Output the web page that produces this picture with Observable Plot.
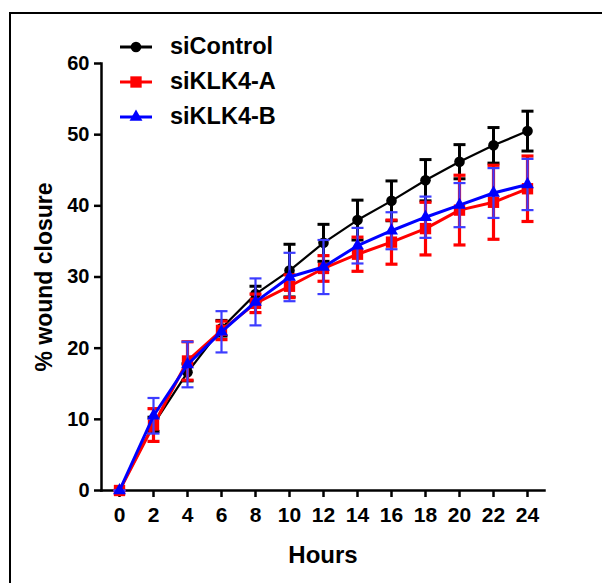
<!DOCTYPE html>
<html>
<head>
<meta charset="utf-8">
<script src="https://cdn.jsdelivr.net/npm/d3@7"></script>
<script src="https://cdn.jsdelivr.net/npm/@observablehq/plot@0.6"></script>
<style>
  html, body { margin: 0; padding: 0; background: #fff; }
  #wrap { position: relative; width: 602px; height: 583px; overflow: hidden; font-family: "Liberation Sans", Arial, sans-serif; }
  #chart { position: absolute; left: 0; top: 0; }
  #frame { position: absolute; left: 9px; top: 12px; width: 700px; height: 700px; border-left: 2px solid #000; border-top: 2px solid #000; z-index: 2; pointer-events: none; }
  #legend { position: absolute; left: 120px; top: 29px; z-index: 3; }
  .row { display: flex; align-items: center; height: 35px; }
  .row span { margin-left: 17px; font-size: 23.5px; font-weight: bold; color: #000; line-height: 1; }
</style>
</head>
<body>
<div id="wrap">
  <div id="chart"></div>
  <div id="frame"></div>
  <div id="legend"></div>
</div>
<script>
// ---- data ----
const hours = [0, 2, 4, 6, 8, 10, 12, 14, 16, 18, 20, 22, 24];
const seriesNames = ["siControl", "siKLK4-A", "siKLK4-B"];
const siControlMean = [0, 9.3, 16.6, 22.8, 27.6, 30.9, 34.8, 38.0, 40.7, 43.6, 46.2, 48.5, 50.5];
const siControlSD   = [0, 1.0, 1.2, 1.1, 1.1, 3.7, 2.6, 2.8, 2.8, 2.9, 2.4, 2.5, 2.8];
const siKLK4AMean   = [0, 9.2, 18.2, 22.5, 26.3, 28.7, 31.2, 33.2, 34.9, 36.8, 39.4, 40.5, 42.4];
const siKLK4ASD     = [0, 2.3, 2.7, 1.3, 1.3, 1.6, 1.8, 2.4, 3.1, 3.7, 4.9, 5.2, 4.6];
const siKLK4BMean   = [0, 10.5, 17.7, 22.3, 26.5, 30.0, 31.4, 34.4, 36.5, 38.4, 40.1, 41.8, 43.0];
const siKLK4BSD     = [0, 2.5, 3.2, 2.9, 3.3, 3.4, 3.8, 2.5, 2.6, 2.9, 3.1, 3.5, 3.6];
const yTicks = [0, 10, 20, 30, 40, 50, 60];
const xLabel = "Hours";
const yLabel = "% wound closure";

const means = [siControlMean, siKLK4AMean, siKLK4BMean];
const sds = [siControlSD, siKLK4ASD, siKLK4BSD];
const colors = ["#000000", "#ff0000", "#0000ff"];
const barColors = ["#000000", "#ff0000", "#3c3cff"];
const symbols = ["circle", "square", "triangle"];
const markerR = [5.3, 6.4, 4.8];
const lineW = [2.2, 3, 3];
const barW = [3, 3.2, 2.2];

const series = seriesNames.map((name, i) =>
  hours.map((h, j) => ({series: name, hour: h, mean: means[i][j], sd: sds[i][j]}))
);

const capSymbol = {
  draw(ctx, size) {
    const w = Math.sqrt(size / Math.PI);
    ctx.moveTo(-w, 0);
    ctx.lineTo(w, 0);
  }
};

const marks = [];
series.forEach((rows, i) => {
  marks.push(
    Plot.ruleX(rows, {x: "hour", y1: d => d.mean - d.sd, y2: d => d.mean + d.sd, stroke: barColors[i], strokeWidth: barW[i]}),
    Plot.dot(rows, {x: "hour", y: d => d.mean - d.sd, symbol: capSymbol, r: 6, stroke: barColors[i], strokeWidth: barW[i], fill: "none"}),
    Plot.dot(rows, {x: "hour", y: d => d.mean + d.sd, symbol: capSymbol, r: 6, stroke: barColors[i], strokeWidth: barW[i], fill: "none"}),
    Plot.line(rows, {x: "hour", y: "mean", stroke: colors[i], strokeWidth: lineW[i]}),
    Plot.dot(rows, {x: "hour", y: "mean", symbol: symbols[i], r: markerR[i], fill: colors[i], stroke: "none"})
  );
});

const chart = Plot.plot({
  width: 602,
  height: 583,
  marginLeft: 101,
  marginRight: 58,
  marginTop: 63,
  marginBottom: 93,
  style: {fontFamily: "'Liberation Sans', Arial, sans-serif", fontWeight: "bold", color: "#000", background: "transparent"},
  x: {domain: [0, 24], insetLeft: 18, insetRight: 17},
  y: {domain: [0, 60]},
  marks: [
    Plot.axisX({ticks: hours, tickFormat: d => String(d), tickSize: 7, tickPadding: 10, fontSize: 21, strokeWidth: 2.5, label: null}),
    Plot.axisY({ticks: yTicks, tickFormat: d => String(d), tickSize: 7, tickPadding: 5, fontSize: 20, strokeWidth: 2.5, label: null}),
    Plot.axisX({ticks: [], label: xLabel, labelAnchor: "center", labelArrow: "none", labelOffset: 72, fontSize: 24}),
    Plot.axisY({ticks: [], label: yLabel, labelAnchor: "center", labelArrow: "none", labelOffset: 66, fontSize: 23}),
    Plot.frame({anchor: "left", strokeWidth: 2.5}),
    Plot.frame({anchor: "bottom", strokeWidth: 2.5}),
    ...marks
  ]
});
document.getElementById("chart").appendChild(chart);

// ---- legend ----
const legend = document.getElementById("legend");
seriesNames.forEach((name, i) => {
  const row = document.createElement("div");
  row.className = "row";
  const svg = d3.create("svg").attr("width", 33).attr("height", 20);
  svg.append("line").attr("x1", 0).attr("x2", 32).attr("y1", 10).attr("y2", 10)
    .attr("stroke", colors[i]).attr("stroke-width", 3);
  const symType = i === 0 ? d3.symbolCircle : i === 1 ? d3.symbolSquare : d3.symbolTriangle;
  svg.append("path").attr("transform", "translate(16,10)")
    .attr("d", d3.symbol(symType, Math.PI * markerR[i] * markerR[i])())
    .attr("fill", colors[i]);
  row.appendChild(svg.node());
  const t = document.createElement("span");
  t.textContent = name;
  row.appendChild(t);
  legend.appendChild(row);
});
</script>
</body>
</html>
